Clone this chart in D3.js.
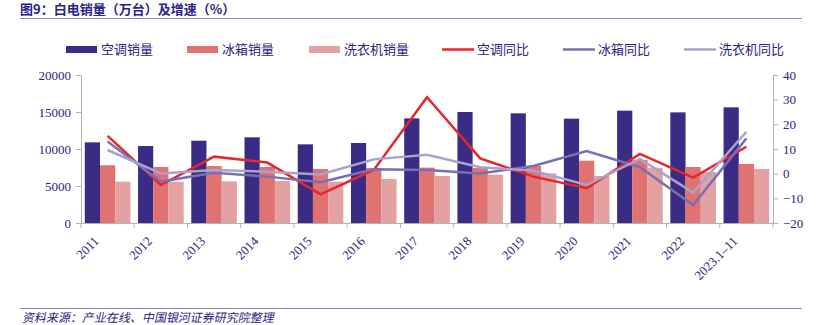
<!DOCTYPE html>
<html><head><meta charset="utf-8">
<script src="https://cdn.jsdelivr.net/npm/d3@7/dist/d3.min.js"></script>
<style>
body{margin:0;background:#fff;}
svg{display:block;}
</style></head>
<body><svg id="c" width="819" height="325"></svg>
<script>
const categories = ["2011","2012","2013","2014","2015","2016","2017","2018","2019","2020","2021","2022","2023.1–11"];
const acSales     = [10900,10400,11120,11580,10630,10810,14140,15000,14820,14100,15180,14950,15630];
const fridgeSales = [7800,7570,7700,7570,7300,7430,7480,7430,7700,8420,8510,7570,7970];
const washerSales = [5580,5580,5630,5680,5580,5950,6350,6530,6700,6350,7470,6900,7300];
const acYoY     = [15.3,-4.6,6.9,4.5,-8.4,1.5,31.0,6.2,-1.2,-5.9,8.0,-1.6,10.9];
const fridgeYoY = [13.0,-3.2,0.4,-1.2,-3.5,1.8,1.5,0.1,3.1,9.2,2.6,-12.7,14.3];
const washerYoY = [9.6,0.1,1.5,0.8,-0.3,5.8,7.7,2.6,1.2,-4.6,6.0,-7.7,17.0];
const leftTicks = [0,5000,10000,15000,20000];
const rightTicks = [-20,-10,0,10,20,30,40];

const barSeries = [
  {name:"空调销量", values:acSales, color:"#3a2c85"},
  {name:"冰箱销量", values:fridgeSales, color:"#e07272"},
  {name:"洗衣机销量", values:washerSales, color:"#e3a1a1"}
];
const lineSeries = [
  {name:"空调同比", values:acYoY, color:"#e8262a"},
  {name:"冰箱同比", values:fridgeYoY, color:"#7a6fb0"},
  {name:"洗衣机同比", values:washerYoY, color:"#a9a2cd"}
];

const svg = d3.select("#c");
const navy = "#2b2383";
const axisGrey = "#b4b4b4";
const ruleColor = "#8e86c4";
const cjk = "'Noto Sans CJK SC','Noto Sans',sans-serif";
const serif = "'Liberation Serif','DejaVu Serif',serif";

const L = 81, R = 773, T = 75, B = 223;
const x = d3.scaleBand().domain(categories).range([L, R]).paddingInner(0).paddingOuter(0);
const xs = d3.scaleBand().domain(d3.range(3)).range([0, x.bandwidth()]).paddingOuter(0.25).paddingInner(0);
const yL = d3.scaleLinear().domain([0,20000]).range([B,T]);
const yR = d3.scaleLinear().domain([-20,40]).range([B,T]);

// title
svg.append("text").attr("x",20).attr("y",14).attr("font-family",cjk).attr("font-weight","bold")
  .attr("font-size",13).attr("fill",navy).text("图9：白电销量（万台）及增速（%）");
svg.append("line").attr("x1",20).attr("x2",802).attr("y1",18.5).attr("y2",18.5).attr("stroke",ruleColor).attr("stroke-width",1);

// bars
barSeries.forEach((s,i)=>{
  svg.append("g").selectAll("rect").data(s.values).join("rect")
    .attr("x",(d,j)=>x(categories[j])+xs(i))
    .attr("width",xs.bandwidth())
    .attr("y",d=>yL(d))
    .attr("height",d=>B-yL(d))
    .attr("fill",s.color);
});

// lines
lineSeries.forEach(s=>{
  const line = d3.line().x((d,j)=>x(categories[j])+x.bandwidth()/2).y(d=>yR(d));
  svg.append("path").datum(s.values).attr("d",line).attr("fill","none")
    .attr("stroke",s.color).attr("stroke-width",2.5).attr("stroke-linejoin","miter");
});

// axes
const gL = svg.append("g").attr("transform",`translate(${L},0)`)
  .call(d3.axisLeft(yL).tickValues(leftTicks).tickSize(5).tickSizeOuter(0).tickFormat(d3.format("d")));
const gR = svg.append("g").attr("transform",`translate(${R},0)`)
  .call(d3.axisRight(yR).tickValues(rightTicks).tickSize(5).tickSizeOuter(0).tickFormat(d=>d<0?"−"+Math.abs(d):d));
const gX = svg.append("g").attr("transform",`translate(0,${B})`)
  .call(d3.axisBottom(x).tickSize(0).tickSizeOuter(0));
[gL,gR].forEach(g=>{
  g.select(".domain").attr("stroke",axisGrey);
  g.selectAll(".tick line").attr("stroke",axisGrey);
  g.selectAll(".tick text").attr("font-family",serif).attr("font-size",13).attr("fill",navy);
});
gL.selectAll(".tick text").attr("x",-10);
gR.selectAll(".tick text").attr("x",10);
gX.select(".domain").attr("stroke",axisGrey);
// category boundary ticks
const bounds = categories.map(c=>x(c)).concat([R]);
svg.append("g").selectAll("line").data(bounds).join("line")
  .attr("x1",d=>d).attr("x2",d=>d).attr("y1",B).attr("y2",B+5).attr("stroke",axisGrey);
gX.selectAll(".tick text")
  .attr("font-family",serif).attr("font-size",13).attr("fill",navy)
  .attr("text-anchor","end").attr("dy",0).attr("y",0)
  .attr("transform","translate(-8,19) rotate(-45)");

// legend
const legendItems = [
  {name:"空调销量",color:"#3a2c85",type:"bar",x:66},
  {name:"冰箱销量",color:"#e07272",type:"bar",x:187},
  {name:"洗衣机销量",color:"#e3a1a1",type:"bar",x:309},
  {name:"空调同比",color:"#e8262a",type:"line",x:442},
  {name:"冰箱同比",color:"#7a6fb0",type:"line",x:563},
  {name:"洗衣机同比",color:"#a9a2cd",type:"line",x:684}
];
const lg = svg.append("g");
legendItems.forEach(it=>{
  if(it.type==="bar"){
    lg.append("rect").attr("x",it.x).attr("y",46).attr("width",31).attr("height",7).attr("fill",it.color);
  } else {
    lg.append("line").attr("x1",it.x).attr("x2",it.x+32).attr("y1",49.5).attr("y2",49.5)
      .attr("stroke",it.color).attr("stroke-width",2.5);
  }
  lg.append("text").attr("x",it.x+35).attr("y",54).attr("font-family",cjk).attr("font-size",13)
    .attr("fill",navy).text(it.name);
});

// source
svg.append("line").attr("x1",20).attr("x2",802).attr("y1",308.5).attr("y2",308.5).attr("stroke",ruleColor).attr("stroke-width",1);
svg.append("text").attr("transform","translate(22,322) skewX(-12)").attr("font-family",cjk)
  .attr("font-size",12).attr("fill",navy).text("资料来源：产业在线、中国银河证券研究院整理");
</script>
</body></html>
